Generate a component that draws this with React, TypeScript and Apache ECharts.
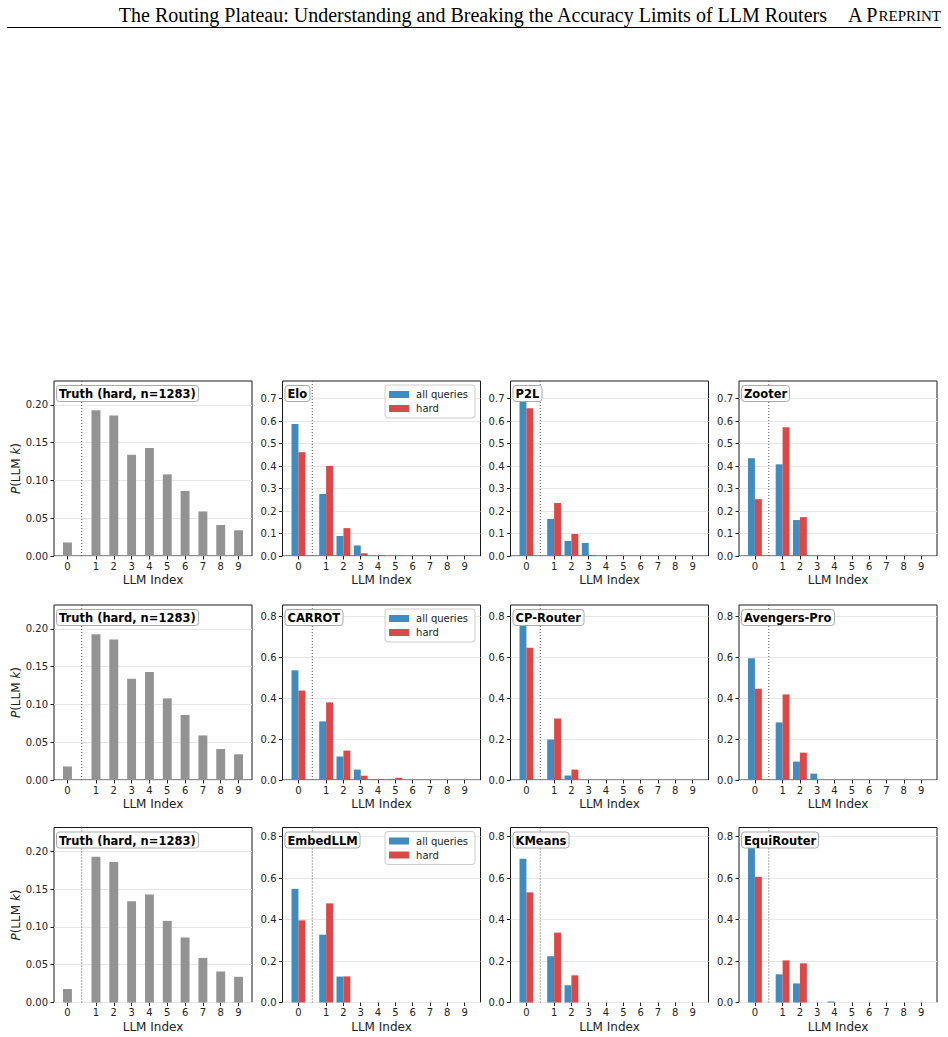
import React, { useEffect, useRef } from "react";
import * as echarts from "echarts";

// ---- data ---------------------------------------------------------------
const LLM_LABELS = ["0", "1", "2", "3", "4", "5", "6", "7", "8", "9"];
const TRUTH_TITLE = "Truth (hard, n=1283)";
const TRUTH_HARD = [0.018, 0.193, 0.186, 0.134, 0.143, 0.108, 0.086, 0.059, 0.041, 0.034];

const ROUTER_NAMES = ["Elo", "P2L", "Zooter", "CARROT", "CP-Router", "Avengers-Pro", "EmbedLLM", "KMeans", "EquiRouter"];
const SERIES_NAMES = ["all queries", "hard"];

const ELO_ALL = [0.587, 0.276, 0.089, 0.047, 0.001, 0, 0, 0, 0, 0];
const ELO_HARD = [0.462, 0.401, 0.124, 0.012, 0.004, 0.001, 0.001, 0.001, 0.001, 0.001];
const P2L_ALL = [0.708, 0.165, 0.067, 0.058, 0, 0.003, 0, 0, 0, 0];
const P2L_HARD = [0.657, 0.236, 0.098, 0.004, 0.001, 0, 0, 0, 0, 0];
const ZOOTER_ALL = [0.435, 0.408, 0.16, 0, 0, 0, 0, 0, 0, 0];
const ZOOTER_HARD = [0.253, 0.573, 0.173, 0.001, 0, 0, 0, 0, 0, 0];
const CARROT_ALL = [0.537, 0.287, 0.115, 0.051, 0.005, 0.005, 0, 0, 0, 0];
const CARROT_HARD = [0.438, 0.38, 0.144, 0.021, 0.005, 0.011, 0.001, 0, 0, 0];
const CP_ROUTER_ALL = [0.779, 0.198, 0.022, 0, 0, 0, 0, 0, 0, 0];
const CP_ROUTER_HARD = [0.648, 0.301, 0.051, 0, 0, 0, 0, 0, 0, 0];
const AVENGERS_ALL = [0.596, 0.282, 0.09, 0.031, 0, 0, 0, 0, 0, 0];
const AVENGERS_HARD = [0.447, 0.419, 0.134, 0, 0, 0, 0, 0, 0, 0];
const EMBEDLLM_ALL = [0.548, 0.327, 0.125, 0, 0, 0, 0, 0, 0, 0];
const EMBEDLLM_HARD = [0.396, 0.478, 0.126, 0, 0, 0, 0, 0, 0, 0];
const KMEANS_ALL = [0.693, 0.223, 0.083, 0, 0, 0, 0, 0, 0, 0];
const KMEANS_HARD = [0.531, 0.337, 0.131, 0, 0, 0, 0, 0, 0, 0];
const EQUI_ALL = [0.767, 0.136, 0.092, 0, 0.005, 0, 0, 0, 0, 0];
const EQUI_HARD = [0.606, 0.203, 0.189, 0, 0, 0, 0, 0, 0, 0];

const ROUTER_ALL = [ELO_ALL, P2L_ALL, ZOOTER_ALL, CARROT_ALL, CP_ROUTER_ALL, AVENGERS_ALL, EMBEDLLM_ALL, KMEANS_ALL, EQUI_ALL];
const ROUTER_HARD = [ELO_HARD, P2L_HARD, ZOOTER_HARD, CARROT_HARD, CP_ROUTER_HARD, AVENGERS_HARD, EMBEDLLM_HARD, KMEANS_HARD, EQUI_HARD];

const HEADER_TITLE = "The Routing Plateau: Understanding and Breaking the Accuracy Limits of LLM Routers";

// ---- layout / style -----------------------------------------------------
const W = 948;
const H = 1037;
const COL_LEFT = [54, 282.5, 510.5, 739];
const ROW_TOP = [381, 605, 827.5];
const PANEL_W = 198;
const PANEL_H = 175;

const FONT = "DejaVu Sans";
const SERIF = "Liberation Serif";
const BLUE = "#418bbf";
const RED = "#dc4748";
const GRAY = "#939393";
const INK = "#222";

// model 0 sits alone, models 1..9 are shifted right to leave a gap
const GAP = 0.6;
const xPos = (k: number) => (k === 0 ? 0 : k + GAP);
const SPLIT_X = (xPos(0) + xPos(1)) / 2;

function labelFor(v: number) {
  let best = 0;
  LLM_LABELS.forEach((_, k) => {
    if (Math.abs(xPos(k) - v) < Math.abs(xPos(best) - v)) best = k;
  });
  return LLM_LABELS[best];
}

function xExtent(halfSpan: number) {
  const lo = xPos(0) - halfSpan;
  const hi = xPos(LLM_LABELS.length - 1) + halfSpan;
  const pad = 0.05 * (hi - lo);
  return [lo - pad, hi + pad];
}

function ticks(max: number, step: number) {
  const out: number[] = [];
  for (let i = 0; i * step <= max + 1e-9; i++) out.push(+(i * step).toFixed(4));
  return out;
}

function barsSeries(name: string, values: number[], gi: number, offset: number, width: number, color: string) {
  return {
    type: "custom",
    name,
    xAxisIndex: gi,
    yAxisIndex: gi,
    itemStyle: { color },
    data: values.map((v, k) => [xPos(k), v]),
    encode: { x: 0, y: 1 },
    renderItem: (_p: any, api: any) => {
      const x = api.value(0);
      const y = api.value(1);
      const a = api.coord([x + offset - width / 2, y]);
      const b = api.coord([x + offset + width / 2, 0]);
      return {
        type: "rect",
        shape: { x: a[0], y: a[1], width: b[0] - a[0], height: b[1] - a[1] },
        style: { fill: color },
      };
    },
    z: 2,
  };
}

function splitSeries(gi: number, ymax: number) {
  return {
    type: "custom",
    xAxisIndex: gi,
    yAxisIndex: gi,
    data: [[SPLIT_X, 0]],
    encode: { x: 0, y: 1 },
    silent: true,
    renderItem: (_p: any, api: any) => {
      const a = api.coord([SPLIT_X, 0]);
      const b = api.coord([SPLIT_X, ymax]);
      return {
        type: "line",
        shape: { x1: a[0], y1: a[1], x2: b[0], y2: b[1] },
        style: { stroke: "#555", lineWidth: 1, lineDash: [1, 2] },
      };
    },
    z: 3,
  };
}

function buildOption() {
  const grids: any[] = [];
  const xAxes: any[] = [];
  const yAxes: any[] = [];
  const series: any[] = [];
  const titles: any[] = [];
  const legends: any[] = [];

  const rowMax = [0, 1, 2].map((r) => {
    let m = 0;
    for (let c = 0; c < 3; c++) {
      const i = r * 3 + c;
      m = Math.max(m, ...ROUTER_ALL[i], ...ROUTER_HARD[i]);
    }
    return m * 1.1;
  });
  const truthMax = Math.max(...TRUTH_HARD) * 1.2;

  for (let r = 0; r < 3; r++) {
    for (let c = 0; c < 4; c++) {
      const gi = grids.length;
      const left = COL_LEFT[c];
      const top = ROW_TOP[r];
      const isTruth = c === 0;
      const ymax = isTruth ? truthMax : rowMax[r];
      const step = isTruth ? 0.05 : r === 0 ? 0.1 : 0.2;
      const digits = isTruth ? 2 : 1;
      const [xmin, xmax] = xExtent(isTruth ? 0.25 : 0.4);
      const xt = LLM_LABELS.map((_, k) => xPos(k));
      const yt = ticks(ymax, step);

      grids.push({
        left,
        top,
        width: PANEL_W,
        height: PANEL_H,
        show: true,
        borderColor: "#1a1a1a",
        borderWidth: 1,
        backgroundColor: "#fff",
        z: 0,
      });
      xAxes.push({
        type: "value",
        gridIndex: gi,
        min: xmin,
        max: xmax,
        axisLine: { show: false, onZero: false },
        splitLine: { show: false },
        axisTick: { show: true, customValues: xt, length: 3.5, lineStyle: { color: INK } },
        axisLabel: {
          customValues: xt,
          formatter: (v: number) => labelFor(v),
          fontFamily: FONT,
          fontSize: 10,
          color: INK,
          margin: 5,
        },
        name: "LLM Index",
        nameLocation: "middle",
        nameGap: 18,
        nameTextStyle: { fontFamily: FONT, fontSize: 12, color: INK },
      });
      yAxes.push({
        type: "value",
        gridIndex: gi,
        min: 0,
        max: ymax,
        interval: step,
        axisLine: { show: false, onZero: false },
        splitLine: { show: true, lineStyle: { color: "#e6e6e6", width: 1 } },
        axisTick: { show: true, customValues: yt, length: 3.5, lineStyle: { color: INK } },
        axisLabel: {
          customValues: yt,
          formatter: (v: number) => v.toFixed(digits),
          fontFamily: FONT,
          fontSize: 10,
          color: INK,
          margin: 6,
        },
        ...(isTruth
          ? {
              name: "{i|P}(LLM {i|k})",
              nameLocation: "middle",
              nameGap: 28,
              nameRotate: 90,
              nameTextStyle: {
                fontFamily: FONT,
                fontSize: 12,
                color: INK,
                rich: { i: { fontFamily: FONT, fontSize: 12, fontStyle: "italic", color: INK } },
              },
            }
          : {}),
      });

      if (isTruth) {
        series.push(barsSeries("truth", TRUTH_HARD, gi, 0, 0.5, GRAY));
        titles.push({ text: TRUTH_TITLE });
      } else {
        const i = r * 3 + (c - 1);
        series.push(barsSeries(SERIES_NAMES[0], ROUTER_ALL[i], gi, -0.2, 0.4, BLUE));
        series.push(barsSeries(SERIES_NAMES[1], ROUTER_HARD[i], gi, 0.2, 0.4, RED));
        titles.push({ text: ROUTER_NAMES[i] });
        if (c === 1) {
          legends.push({
            data: SERIES_NAMES,
            orient: "vertical",
            right: W - (left + PANEL_W - 5.5),
            top: top + 4,
            itemWidth: 20,
            itemHeight: 7,
            itemGap: 3,
            icon: "rect",
            selectedMode: false,
            backgroundColor: "#fff",
            borderColor: "#cccccc",
            borderWidth: 1,
            borderRadius: 3,
            padding: [4, 7, 4, 4],
            textStyle: { fontFamily: FONT, fontSize: 10, color: INK, lineHeight: 11, padding: [0, 0, 0, 2] },
            z: 10,
          });
        }
      }
      const t = titles[titles.length - 1];
      Object.assign(t, {
        left: left + 2,
        top: top + 4,
        backgroundColor: "#fff",
        borderColor: "#aaaaaa",
        borderWidth: 1,
        borderRadius: 3,
        padding: [3, 3, 2, 3],
        textStyle: { fontFamily: FONT, fontSize: 11.5, fontWeight: "bold", color: "#000" },
        z: 10,
      });
      series.push(splitSeries(gi, ymax));
    }
  }

  return {
    animation: false,
    backgroundColor: "#fff",
    grid: grids,
    xAxis: xAxes,
    yAxis: yAxes,
    series,
    title: titles,
    legend: legends,
    graphic: [
      {
        type: "text",
        x: 827,
        y: 14.5,
        style: {
          text: HEADER_TITLE,
          fontFamily: SERIF,
          fontSize: 20,
          fill: "#000",
          textAlign: "right",
          textVerticalAlign: "middle",
        },
      },
      {
        type: "text",
        x: 848,
        y: 14.5,
        style: {
          text: "A P",
          fontFamily: SERIF,
          fontSize: 20,
          fill: "#000",
          textAlign: "left",
          textVerticalAlign: "middle",
        },
      },
      {
        type: "text",
        x: 941,
        y: 16.3,
        style: {
          text: "REPRINT",
          fontFamily: SERIF,
          fontSize: 15,
          fill: "#000",
          textAlign: "right",
          textVerticalAlign: "middle",
        },
      },
      {
        type: "line",
        shape: { x1: 7, y1: 27.5, x2: 941, y2: 27.5 },
        style: { stroke: "#000", lineWidth: 1 },
      },
    ],
  };
}

export default function App() {
  const ref = useRef<HTMLDivElement>(null);
  useEffect(() => {
    if (!ref.current) return;
    const chart = echarts.init(ref.current, undefined, { renderer: "svg" });
    chart.setOption(buildOption() as any);
    return () => chart.dispose();
  }, []);
  return (
    <div
      ref={ref}
      style={{ position: "absolute", left: 0, top: 0, width: W, height: H, background: "#fff" }}
    />
  );
}
